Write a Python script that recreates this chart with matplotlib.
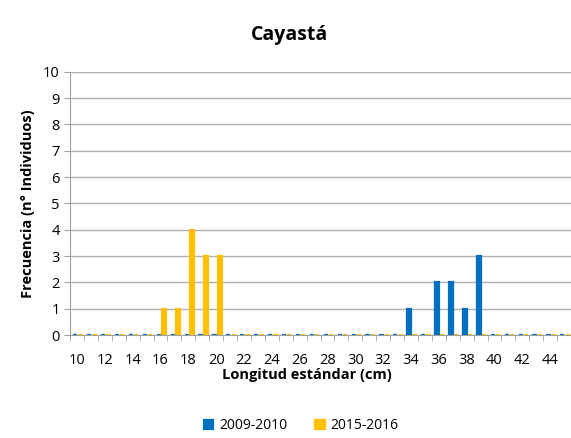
import numpy as np
import matplotlib.pyplot as plt

plt.rcParams['font.family'] = ['Open Sans', 'DejaVu Sans']

longitud = list(range(10, 46))
serie_2009 = {34: 1, 36: 2, 37: 2, 38: 1, 39: 3}
serie_2015 = {16: 1, 17: 1, 18: 4, 19: 3, 20: 3}
vals_2009 = [serie_2009.get(l, 0) for l in longitud]
vals_2015 = [serie_2015.get(l, 0) for l in longitud]

azul = '#0070C0'
amarillo = '#FFC000'

fig = plt.figure(figsize=(5.71, 4.38), dpi=100)
ax = fig.add_axes([0.1226, 0.235, 0.8774, 0.601])

x = np.arange(len(longitud))
w = 0.3
ax.bar(x - 0.12, vals_2009, width=w, color=azul, edgecolor=azul, linewidth=1.6,
       label='2009-2010', zorder=3)
ax.bar(x + 0.26, vals_2015, width=w, color=amarillo, edgecolor=amarillo, linewidth=1.6,
       label='2015-2016', zorder=3)

ax.set_xlim(-0.5, len(longitud) - 0.5)
ax.set_ylim(0, 10)
ax.set_yticks(range(0, 11))
ax.set_xticks(x[::2])
ax.set_xticklabels([str(l) for l in longitud[::2]], fontsize=10.5)
ax.set_xticks(np.arange(-0.5, len(longitud), 1), minor=True)
ax.tick_params(axis='x', which='major', length=0, pad=13)
ax.tick_params(axis='x', which='minor', length=4, color='#a0a0a0')
ax.tick_params(axis='y', length=4, color='#a0a0a0', labelsize=10.5)
ax.grid(axis='y', color='#b0b0b0', linewidth=1, zorder=0)
for s in ['top', 'right']:
    ax.spines[s].set_visible(False)
for s in ['left', 'bottom']:
    ax.spines[s].set_color('#a0a0a0')
    ax.spines[s].set_zorder(1)

ax.set_xlabel('Longitud estándar (cm)', fontsize=10.5, fontweight='bold', labelpad=2)
ax.xaxis.set_label_coords(0.473, -0.125)
ax.set_ylabel('Frecuencia (n° Individuos)', fontsize=10.5, fontweight='bold', labelpad=6)
fig.suptitle('Cayastá', fontsize=14, fontweight='bold', x=0.507, y=0.942)

fig.legend(loc='center', bbox_to_anchor=(0.527, 0.028), ncol=2, frameon=False,
           fontsize=10, handlelength=0.7, handleheight=0.7, columnspacing=2.0, handletextpad=0.4)

fig.savefig('out.png', dpi=100)
